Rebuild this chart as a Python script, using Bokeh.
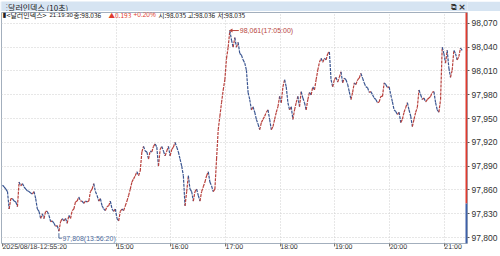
import numpy as np
from bokeh.plotting import figure
from bokeh.layouts import column
from bokeh.models import (Range1d, FixedTicker, CustomJSTickFormatter, Label, BoxAnnotation,
                          PolyAnnotation, ColumnDataSource)
from bokeh.core.properties import value
from bokeh.embed import file_html
from bokeh.resources import INLINE

# ---------------- data ----------------
title_text = "달러인덱스 (10초)"
symbol = "달러인덱스"
trade_date = "2025/08/18"
start_time = "12:55:20"
end_time = "21:19:30"
hour_labels = ["15:00", "16:00", "17:00", "18:00", "19:00", "20:00", "21:00"]
y_ticks = [97.800, 97.830, 97.860, 97.890, 97.920, 97.950, 97.980, 98.010, 98.040, 98.070]
prev_close = 97.843
bar_open, bar_high, bar_low = 98.035, 98.036, 98.035
high_time = "17:05:00"
low_time = "13:56:20"

prices_1255_1500 = [
    97.866, 97.864, 97.861, 97.858, 97.836, 97.849, 97.849, 97.846, 97.845, 97.839,
    97.870, 97.865, 97.868, 97.864, 97.861, 97.859, 97.858, 97.856, 97.855, 97.858,
    97.849, 97.836, 97.833, 97.824, 97.830, 97.824, 97.833, 97.833, 97.828, 97.820,
    97.821, 97.818, 97.814, 97.815, 97.808, 97.820, 97.824, 97.821, 97.824, 97.818,
    97.828, 97.824, 97.834, 97.836, 97.845, 97.846, 97.851, 97.846, 97.846, 97.843,
    97.846, 97.845, 97.846, 97.858, 97.861, 97.868, 97.858, 97.853, 97.846, 97.849,
    97.840, 97.836, 97.834, 97.839, 97.840, 97.846, 97.836, 97.833, 97.836]
prices_1500_1705 = [
    97.824, 97.821, 97.833, 97.836, 97.834, 97.840, 97.846, 97.853, 97.861, 97.870,
    97.874, 97.878, 97.883, 97.878, 97.884, 97.908, 97.915, 97.909, 97.908, 97.899,
    97.909, 97.908, 97.915, 97.918, 97.914, 97.890, 97.911, 97.915, 97.909, 97.903,
    97.909, 97.915, 97.903, 97.911, 97.914, 97.920, 97.914, 97.908, 97.899, 97.890,
    97.878, 97.840, 97.858, 97.878, 97.861, 97.858, 97.846, 97.858, 97.861, 97.853,
    97.846, 97.858, 97.864, 97.870, 97.878, 97.883, 97.870, 97.865, 97.858, 97.861,
    97.899, 97.936, 97.953, 97.970, 97.986, 97.999, 98.026, 98.040, 98.061]
prices_1705_1910 = [
    98.049, 98.040, 98.052, 98.040, 98.046, 98.032, 98.030, 98.024, 98.020, 98.011,
    97.983, 97.974, 97.961, 97.965, 97.958, 97.949, 97.943, 97.936, 97.945, 97.949,
    97.953, 97.958, 97.961, 97.949, 97.936, 97.940, 97.949, 97.958, 97.965, 97.978,
    97.970, 97.990, 97.999, 97.990, 97.970, 97.961, 97.965, 97.949, 97.961, 97.970,
    97.978, 97.965, 97.984, 97.976, 97.970, 97.961, 97.974, 97.983, 97.980, 97.990,
    97.986, 97.999, 98.011, 98.021, 98.026, 98.021, 98.026, 98.024, 98.032, 98.034,
    97.999, 97.990, 97.999, 98.002, 97.996, 98.002, 98.009, 97.995, 98.001]
prices_1910_2120 = [
    97.999, 97.993, 97.984, 97.974, 97.983, 97.995, 97.993, 97.999, 98.001, 98.007,
    98.001, 97.995, 97.990, 97.989, 97.983, 97.984, 97.980, 97.976, 97.974, 97.970,
    97.971, 97.978, 97.978, 97.995, 97.993, 97.989, 97.990, 97.980, 97.971, 97.961,
    97.959, 97.955, 97.958, 97.945, 97.949, 97.958, 97.964, 97.970, 97.961, 97.953,
    97.940, 97.949, 97.958, 97.964, 97.986, 97.980, 97.974, 97.976, 97.971, 97.974,
    97.976, 97.978, 97.983, 97.984, 97.970, 97.961, 97.958, 97.974, 98.040, 98.032,
    98.020, 98.036, 98.014, 98.002, 98.011, 98.036, 98.032, 98.024, 98.028, 98.039,
    98.036]

# ---------------- helpers ----------------
def to_min(s):
    h, m, *rest = [int(v) for v in s.split(":")]
    sec = rest[0] if rest else 0
    return h * 60 + m + sec / 60.0

prices = np.array(prices_1255_1500 + prices_1500_1705 + prices_1705_1910 + prices_1910_2120)
t0, t1 = to_min(start_time), to_min(end_time)
times = np.linspace(t0, t1, len(prices))
hour_ticks = [to_min(h) for h in hour_labels]

UP = "#b8403c"
DOWN = "#3a5591"
RED = "#e03b2e"
BLUE = "#3d5fa8"
FONT = "Liberation Sans"
KFONT = "Noto Sans CJK KR"

W, H_MAIN, H_HDR = 500, 245, 11
FW, FH = 466, 233                       # frame size in px
MPP = 60.0 / 54.7                       # minutes per pixel
UPP = 0.03 / 24.0                       # price units per pixel
x_start = t0 - 1 * MPP
x_end = x_start + FW * MPP
y_top = 98.070 + 11 * UPP
y_bot = y_top - FH * UPP

# ---------------- header bar ----------------
hdr = figure(width=W, height=H_HDR, x_range=(0, W), y_range=(0, H_HDR),
             x_axis_type=None, y_axis_type=None, toolbar_location=None,
             output_backend="svg", min_border=0,
             background_fill_color="#d6e4f2", border_fill_color="#d6e4f2",
             outline_line_color=None)
hdr.grid.visible = False
hdr.text(x=[7], y=[5.5], text=[title_text], text_font=value(KFONT), text_font_size="8px",
         text_color="#1b1b1b", text_baseline="middle")
hdr.text(x=[1], y=[5.5], text=["⋮"], text_font=value("DejaVu Sans"), text_font_size="8px",
         text_color="#7d8ea3", text_baseline="middle")
hdr.text(x=[494], y=[5.5], text=["×"], text_font=value("DejaVu Sans"), text_font_size="9px",
         text_color="#333333", text_baseline="middle", text_align="center", text_font_style="bold")
hdr.text(x=[485], y=[5.5], text=["⧉"], text_font=value("DejaVu Sans"), text_font_size="8px",
         text_color="#333333", text_baseline="middle", text_align="center")
hdr.segment(x0=[0], y0=[0.5], x1=[W], y1=[0.5], line_color="#9fb3c8", line_width=1)

# ---------------- main chart ----------------
p = figure(width=W, height=H_MAIN, x_range=Range1d(x_start, x_end), y_range=Range1d(y_bot, y_top),
           y_axis_location="right", toolbar_location=None, output_backend="svg",
           min_border_top=1, min_border_bottom=11, min_border_left=1, min_border_right=33,
           background_fill_color="white", border_fill_color="white",
           outline_line_color="#a3afbd")

# grids
p.ygrid.ticker = FixedTicker(ticks=y_ticks)
p.xgrid.ticker = FixedTicker(ticks=hour_ticks)
for g in (p.xgrid, p.ygrid):
    g.grid_line_color = "#cfcfcf"
    g.grid_line_dash = "1 2"
    g.grid_line_width = 1

# y axis (right)
ya = p.yaxis[0]
ya.ticker = FixedTicker(ticks=y_ticks)
ya.formatter = CustomJSTickFormatter(code="return tick.toFixed(3).replace('.', ',');")
ya.axis_line_color = None
ya.major_tick_in = 0
ya.major_tick_out = 2
ya.major_tick_line_color = "#555555"
ya.minor_tick_line_color = None
ya.major_label_standoff = 2
ya.major_label_text_font = FONT
ya.major_label_text_font_size = "8.5px"
ya.major_label_text_color = "#333333"

# x axis
xa = p.xaxis[0]
xa.ticker = FixedTicker(ticks=[t0] + hour_ticks)
xa.formatter = CustomJSTickFormatter(args=dict(date=trade_date), code="""
    const h = Math.floor(tick / 60 + 1e-9);
    const m = Math.floor(tick - h * 60 + 1e-9);
    const s = Math.round((tick - h * 60 - m) * 60);
    const pad = v => String(v).padStart(2, '0');
    if (index == 0) return date + '-' + pad(h) + ':' + pad(m) + ':' + pad(s);
    return pad(h) + ':' + pad(m);
""")
xa.axis_line_color = None
xa.major_tick_in = 0
xa.major_tick_out = 3
xa.major_tick_line_color = "#777777"
xa.minor_tick_line_color = None
xa.major_label_standoff = 0
xa.major_label_orientation = -0.0005
xa.major_label_text_font = FONT
xa.major_label_text_font_size = "7px"
xa.major_label_text_color = "#333333"

# axis line: red above the previous close, blue below
p.add_layout(BoxAnnotation(left=FW - 2, right=FW, left_units="screen", right_units="screen",
                           bottom=prev_close, fill_color=RED, fill_alpha=1, line_color=None))
p.add_layout(BoxAnnotation(left=FW - 2, right=FW, left_units="screen", right_units="screen",
                           top=prev_close, fill_color=BLUE, fill_alpha=1, line_color=None))

# price path: red when rising, blue when falling
dx0, dy0 = times[:-1], prices[:-1]
dx1, dy1 = times[1:], prices[1:]
cols = [UP if b >= a else DOWN for a, b in zip(dy0, dy1)]
src = ColumnDataSource(dict(x0=dx0, y0=dy0, x1=dx1, y1=dy1, c=cols))
p.segment(x0="x0", y0="y0", x1="x1", y1="y1", color="c", line_width=1.2, line_dash="3 1",
          source=src)

# high / low markers
imax, imin = int(np.argmax(prices)), int(np.argmin(prices))
tmax, pmax = times[imax], prices[imax]
tmin, pmin = times[imin], prices[imin]
p.segment(x0=[tmax + 1 * MPP], y0=[pmax], x1=[tmax + 9 * MPP], y1=[pmax], line_color="#b8463e", line_width=1)
p.scatter(x=[tmax + 1.5 * MPP], y=[pmax], marker="triangle", angle=np.pi / 2, size=4,
          fill_color="#b8463e", line_color=None)
p.add_layout(Label(x=tmax + 10 * MPP, y=pmax, text=f"{pmax:.3f}".replace(".", ",") + f"({high_time})",
                   text_font=FONT, text_font_size="7px", text_color="#b8463e", text_baseline="middle"))
p.segment(x0=[tmin], y0=[pmin - 2 * UPP], x1=[tmin], y1=[pmin - 7 * UPP], line_color="#4d6b9c", line_width=1)
p.segment(x0=[tmin], y0=[pmin - 7 * UPP], x1=[tmin + 3 * MPP], y1=[pmin - 7 * UPP], line_color="#4d6b9c", line_width=1)
p.add_layout(Label(x=tmin + 3.5 * MPP, y=pmin - 7 * UPP, text=f"{pmin:.3f}".replace(".", ",") + f"({low_time})",
                   text_font=FONT, text_font_size="7px", text_color="#4d6b9c", text_baseline="middle"))

# info line
last = prices[-1]
change = last - prev_close
pct = change / prev_close * 100
info = [
    ("<" + symbol + ">", 5, "#151515", KFONT, "7px"),
    (end_time, 48, "#151515", FONT, "6px"),
    ("종:" + f"{last:.3f}", 72, "#151515", KFONT, "6.5px"),
    ("▲" + f"{change:.3f}", 107, RED, KFONT, "6.5px"),
    (f"+{pct:.2f}%", 132, RED, FONT, "6.5px"),
    ("시:" + f"{bar_open:.3f}", 157, "#151515", KFONT, "6.5px"),
    ("고:" + f"{bar_high:.3f}", 186, "#151515", KFONT, "6.5px"),
    ("저:" + f"{bar_low:.3f}", 216, "#151515", KFONT, "6.5px"),
]
p.add_layout(Label(x=1, y=FH - 4, x_units="screen", y_units="screen", text="▮",
                   text_font="DejaVu Sans", text_font_size="7px", text_color="#222222",
                   text_baseline="middle"))
for txt, xx, col, fnt, fs in info:
    p.add_layout(Label(x=xx, y=FH - 4, x_units="screen", y_units="screen", text=txt,
                       text_font=fnt, text_font_size=fs, text_color=col, text_baseline="middle"))

# last price badge on the axis
c = last - 2 * UPP
hh = 10.5 * UPP
p.add_layout(PolyAnnotation(xs=[FW, FW + 5, FW + 31, FW + 31, FW + 5],
                            ys=[last, c + hh, c + hh, c - hh, c - hh],
                            xs_units="screen", ys_units="data",
                            fill_color=RED, fill_alpha=1, line_color=None))
p.add_layout(Label(x=FW + 18, y=c + 5 * UPP, x_units="screen", text=f"{last:.3f}".replace(".", ","),
                   text_font=FONT, text_font_size="7.5px", text_color="white",
                   text_align="center", text_baseline="middle"))
p.add_layout(Label(x=FW + 18, y=c - 5 * UPP, x_units="screen", text=f"+{pct:.2f}%".replace(".", ","),
                   text_font=FONT, text_font_size="7.5px", text_color="white",
                   text_align="center", text_baseline="middle"))

layout = column(hdr, p, spacing=0)
open("out.html", "w").write(file_html(layout, INLINE))
